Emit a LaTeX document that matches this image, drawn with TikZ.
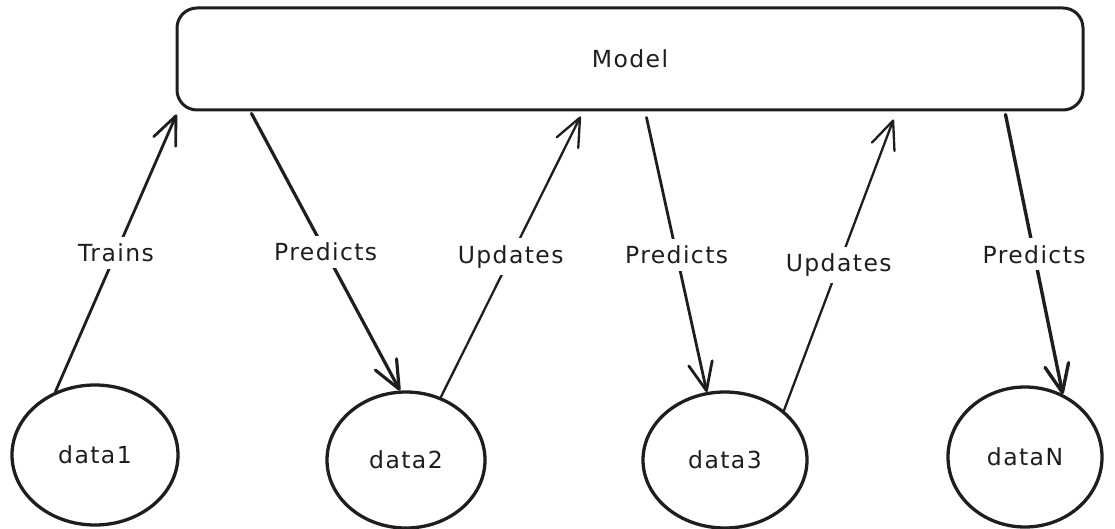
\documentclass[tikz,border=0pt]{standalone}
\usepackage{fontspec}
\setmainfont{DejaVu Sans}
\newfontfamily\hand[LetterSpace=6]{DejaVu Sans}
\usetikzlibrary{arrows.meta,shapes.geometric,calc}
\definecolor{ink}{HTML}{1E1E1E}
\newcommand{\labelfont}{\hand\fontsize{23.5}{27}\selectfont}
\tikzset{
  box/.style={draw=ink, line width=3pt, rounded corners=20pt,
    minimum width=906pt, minimum height=102pt, inner sep=0pt,
    font=\labelfont, text=ink},
  blob/.style={ellipse, draw=ink, line width=3.3pt, inner sep=0pt,
    font=\labelfont, text=ink},
  link/.style={draw=ink, line width=2.8pt, line cap=round, line join=round,
    -{Straight Barb[round,length=28pt,width=24pt]}},
  tag/.style={fill=white, inner sep=7pt, font=\labelfont, text=ink}
}
\begin{document}
\begin{tikzpicture}[x=1pt,y=-1pt]
\useasboundingbox (0,0) rectangle (1115,529);

% the model
\node[box] (model) at (630,59) {Model};

% data sets
\node[blob, minimum width=166pt, minimum height=140pt] (d1) at (95,455) {data1};
\node[blob, minimum width=158pt, minimum height=136pt] (d2) at (406,460) {data2};
\node[blob, minimum width=164pt, minimum height=136pt] (d3) at (725,460) {data3};
\node[blob, minimum width=154pt, minimum height=140pt] (dN) at (1025,457) {dataN};

% attachment points under the model
\coordinate (mTrain) at ($(model.south west)+(1,3)$);
\coordinate (mP1)    at ($(model.south west)+(76,2)$);
\coordinate (mU1)    at ($(model.south west)+(405,5)$);
\coordinate (mP2)    at ($(model.south west)+(471,6)$);
\coordinate (mU2)    at ($(model.south west)+(718,8)$);
\coordinate (mP3)    at ($(model.south west)+(830,3)$);

% connectors
\draw[link] (d1.122) -- node[tag] {Trains} (mTrain);
\draw[link, line width=3.2pt] (mP1) -- node[tag] {Predicts} (d2.95);
\draw[link, line width=2.3pt] (d2.61) -- node[tag] {Updates} (mU1);
\draw[link] (mP2) -- node[tag] {Predicts} (d3.105);
\draw[link, line width=2.3pt] (d3.40) -- node[tag] {Updates} (mU2);
\draw[link, line width=3.4pt] (mP3) -- node[tag] {Predicts} (dN.59);
\end{tikzpicture}
\end{document}
